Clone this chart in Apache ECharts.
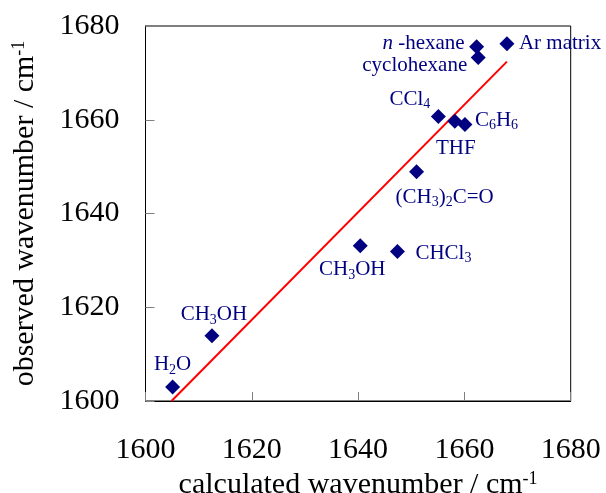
<!DOCTYPE html>
<html>
<head>
<meta charset="utf-8">
<script src="https://cdn.jsdelivr.net/npm/echarts@6/dist/echarts.min.js"></script>
<style>html,body{margin:0;padding:0;background:#fff}#c{width:606px;height:493px}</style>
</head>
<body>
<div id="c"></div>
<script>
// ---- data ----
const names = ['Ar matrix', 'n-hexane', 'cyclohexane', 'CCl4', 'THF', 'C6H6', '(CH3)2C=O', 'CHCl3', 'CH3OH', 'CH3OH', 'H2O'];
const calculated = [1668.0, 1662.3, 1662.6, 1655.1, 1658.2, 1660.1, 1651.0, 1647.4, 1640.4, 1612.5, 1605.1];
const observed   = [1676.2, 1675.6, 1673.3, 1660.7, 1659.7, 1659.0, 1648.9, 1631.9, 1633.1, 1613.9, 1603.0];
const fitX = [1604.9, 1668.0];
const fitY = [1600.0, 1672.4];
const xTicks = [1600, 1620, 1640, 1660, 1680];
const yTicks = [1600, 1620, 1640, 1660, 1680];

// ---- label text (rich) and placement ----
const labelText = [
  'Ar matrix',
  '{i|n} -hexane',
  'cyclohexane',
  'CCl{s|4}',
  'THF',
  'C{s|6}H{s|6}',
  '(CH{s|3}){s|2}C=O',
  'CHCl{s|3}',
  'CH{s|3}OH',
  'CH{s|3}OH',
  'H{s|2}O'
];
const labelPlace = [
  {align: 'left',   offset: [12, 0]},
  {align: 'right',  offset: [-12, -3]},
  {align: 'right',  offset: [-11, 8]},
  {align: 'right',  offset: [-8, -17]},
  {align: 'center', offset: [1, 27]},
  {align: 'left',   offset: [10, -4]},
  {align: 'center', offset: [28, 26]},
  {align: 'left',   offset: [18, 2]},
  {align: 'center', offset: [-8, 24]},
  {align: 'center', offset: [2, -21]},
  {align: 'center', offset: [0, -22]}
];

const SERIF = '"Liberation Serif", "Times New Roman", serif';
const NAVY = '#000080';
const rich = {
  s: {fontSize: 14, lineHeight: 10, verticalAlign: 'bottom', color: NAVY, fontFamily: SERIF},
  i: {fontStyle: 'italic', fontSize: 21, lineHeight: 24, color: NAVY, fontFamily: SERIF}
};

const points = calculated.map((x, k) => ({
  value: [x, observed[k]],
  name: names[k],
  label: {
    show: true,
    position: 'inside',
    formatter: labelText[k],
    align: labelPlace[k].align,
    verticalAlign: 'middle',
    offset: labelPlace[k].offset,
    color: NAVY,
    fontSize: 21,
    lineHeight: 24,
    fontFamily: SERIF,
    rich: rich
  }
}));

const chart = echarts.init(document.getElementById('c'), null, {renderer: 'canvas'});
const axisFont = {fontFamily: SERIF, fontSize: 30, color: '#000'};
const supRich = {sup: {fontSize: 18, lineHeight: 12, verticalAlign: 'top', fontFamily: SERIF, color: '#000'}};
const plain = v => String(v);

chart.setOption({
  animation: false,
  backgroundColor: '#fff',
  grid: {left: 145.5, right: 35.3, top: 26, bottom: 92, show: true, borderColor: '#000', borderWidth: 1,
         backgroundColor: 'transparent', containLabel: false, outerBoundsMode: 'none'},
  xAxis: {
    type: 'value', min: xTicks[0], max: xTicks[xTicks.length - 1], interval: 20,
    axisLine: {show: true, lineStyle: {color: '#000', width: 1}},
    axisTick: {show: true, inside: true, length: 9, lineStyle: {color: '#808080'}},
    splitLine: {show: false},
    axisLabel: Object.assign({margin: 34, formatter: plain}, axisFont),
    name: 'calculated wavenumber / cm{sup|-1}',
    nameLocation: 'middle', nameGap: 60,
    nameTextStyle: Object.assign({rich: supRich, lineHeight: 30}, axisFont)
  },
  yAxis: {
    type: 'value', min: yTicks[0], max: yTicks[yTicks.length - 1], interval: 20,
    axisLine: {show: true, lineStyle: {color: '#000', width: 1}},
    axisTick: {show: true, inside: true, length: 9, lineStyle: {color: '#808080'}},
    splitLine: {show: false},
    axisLabel: Object.assign({margin: 26, formatter: plain}, axisFont),
    name: 'observed wavenumber / cm{sup|-1}',
    nameLocation: 'middle', nameGap: 105,
    nameTextStyle: Object.assign({rich: supRich, lineHeight: 30}, axisFont)
  },
  series: [
    {
      type: 'line',
      data: fitX.map((x, k) => [x, fitY[k]]),
      symbol: 'none',
      lineStyle: {color: '#ff0000', width: 2},
      z: 2
    },
    {
      type: 'scatter',
      symbol: 'diamond',
      symbolSize: 15,
      itemStyle: {color: NAVY, opacity: 1},
      emphasis: {disabled: true},
      data: points,
      z: 3
    }
  ]
});
</script>
</body>
</html>
